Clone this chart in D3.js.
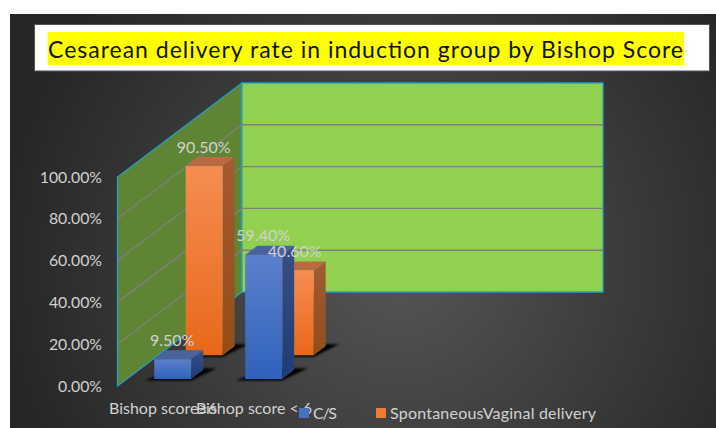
<!DOCTYPE html>
<html>
<head>
<meta charset="utf-8">
<style>
  html, body { margin: 0; padding: 0; background: #fff; }
  svg { display: block; }
  text { font-family: Lato, "Open Sans", sans-serif; }
</style>
<script src="https://cdn.jsdelivr.net/npm/d3@7"></script>
</head>
<body>
<div id="chart"></div>
<script>
const title = "Cesarean delivery rate in induction group by Bishop Score";
const categories = ["Bishop score≥6", "Bishop score < 6"];
const seriesNames = ["C/S", "SpontaneousVaginal delivery"];
const csValues = [9.5, 59.4];
const vaginalValues = [90.5, 40.6];
const yTicks = [0, 20, 40, 60, 80, 100];

const W = 716, H = 428;
const labelColor = "#d2d2d2";

const svg = d3.select("#chart").append("svg")
  .attr("width", W)
  .attr("height", H);

const defs = svg.append("defs");

const bg = defs.append("radialGradient").attr("id", "bg")
  .attr("gradientUnits", "userSpaceOnUse")
  .attr("cx", 400).attr("cy", 260).attr("r", 400);
bg.append("stop").attr("offset", "0%").attr("stop-color", "#565656");
bg.append("stop").attr("offset", "100%").attr("stop-color", "#262626");

function vGrad(id, top, bottom) {
  const g = defs.append("linearGradient").attr("id", id)
    .attr("x1", 0).attr("y1", 0).attr("x2", 0).attr("y2", 1);
  g.append("stop").attr("offset", "0%").attr("stop-color", top);
  g.append("stop").attr("offset", "100%").attr("stop-color", bottom);
}
vGrad("blueFront", "#5c80cb", "#2f62bd");
vGrad("blueSide", "#384f86", "#1e3c76");
vGrad("orangeFront", "#f58d52", "#e8681a");
vGrad("orangeSide", "#a15c32", "#914e18");

defs.append("filter").attr("id", "blur")
  .attr("x", "-30%").attr("y", "-60%").attr("width", "160%").attr("height", "220%")
  .append("feGaussianBlur").attr("stdDeviation", 1.2);

const palette = [
  { front: "url(#blueFront)", side: "url(#blueSide)", top: "#4a649b", key: "#4472c4" },
  { front: "url(#orangeFront)", side: "url(#orangeSide)", top: "#b96a41", key: "#ed7d31" }
];

// background panel
svg.append("rect")
  .attr("x", 10).attr("y", 14)
  .attr("width", W - 10).attr("height", H - 14)
  .attr("fill", "url(#bg)");

// title
svg.append("rect")
  .attr("x", 34.5).attr("y", 24.5)
  .attr("width", 675).attr("height", 46.5)
  .attr("fill", "#fff")
  .attr("stroke", "#555");
svg.append("rect")
  .attr("x", 47.5).attr("y", 32)
  .attr("width", 636.5).attr("height", 33)
  .attr("fill", "#ffff00");
svg.append("text")
  .attr("x", 48).attr("y", 58)
  .attr("font-size", 23)
  .attr("textLength", 635)
  .attr("fill", "#111")
  .text(title);

// fake 3d: depth 0 is the front of the floor, depth 1 the back wall
const depthX = 124.5, depthY = -94;
const yScale = d3.scaleLinear().domain([0, 100]).range([386, 177]);
const xScale = d3.scaleBand().domain(categories)
  .range([145, 273]).paddingInner(0.593).paddingOuter(0).align(0);
const depthScale = d3.scalePoint().domain(seriesNames).range([0.074, 0.327]);
const barDepth = 0.096;
const wallLeft = 117.5, wallWidth = 361;

function project(x, value, depth) {
  return [x + depth * depthX, yScale(value) + depth * depthY];
}
const poly = pts => pts.map(p => p.join(",")).join(" ");

const wallStroke = "#27a0c4";

// side wall
svg.append("polygon")
  .attr("points", poly([
    project(wallLeft, 0, 0), project(wallLeft, 100, 0),
    project(wallLeft, 100, 1), project(wallLeft, 0, 1)
  ]))
  .attr("fill", "#5f8534")
  .attr("stroke", wallStroke)
  .attr("stroke-width", 1.3);

// back wall
svg.append("polygon")
  .attr("points", poly([
    project(wallLeft, 0, 1), project(wallLeft, 100, 1),
    project(wallLeft + wallWidth, 100, 1), project(wallLeft + wallWidth, 0, 1)
  ]))
  .attr("fill", "#92d050")
  .attr("stroke", wallStroke)
  .attr("stroke-width", 1.3);

// gridlines
const grid = svg.append("g").attr("stroke", "#7f7f7f").attr("stroke-width", 1.4).attr("fill", "none");
yTicks.filter(d => d > 0 && d < 100).forEach(d => {
  grid.append("polyline")
    .attr("points", poly([
      project(wallLeft, d, 0), project(wallLeft, d, 1),
      project(wallLeft + wallWidth, d, 1)
    ]));
});

// y axis
const yAxis = svg.append("g")
  .attr("transform", "translate(102,0)")
  .call(d3.axisLeft(yScale).tickValues(yTicks).tickSize(0).tickPadding(0)
    .tickFormat(d => d3.format(".2f")(d) + "%"));
yAxis.select(".domain").remove();
yAxis.selectAll("text")
  .attr("font-size", 15.8)
  .attr("fill", labelColor)
  .style("font-family", "Lato, 'Open Sans', sans-serif");

// bars, back row first so the front row covers it
const bars = [];
[vaginalValues, csValues].forEach(values => {
  const s = values === csValues ? 0 : 1;
  values.forEach((v, i) => bars.push({ s, i, v }));
});

const barW = xScale.bandwidth();

bars.forEach(d => {
  const x = xScale(categories[d.i]);
  const dz = depthScale(seriesNames[d.s]);
  const c = palette[d.s];
  const g = svg.append("g");

  // floor shadow
  g.append("polygon")
    .attr("points", poly([
      project(x - 8, 0, dz - 0.015),
      project(x + barW + 2, 0, dz - 0.015),
      project(x + barW + 11, 0, dz + barDepth + 0.02),
      project(x + 10, 0, dz + barDepth + 0.02)
    ]))
    .attr("fill", "#050505")
    .attr("filter", "url(#blur)");

  // top face
  g.append("polygon")
    .attr("points", poly([
      project(x, d.v, dz), project(x + barW, d.v, dz),
      project(x + barW, d.v, dz + barDepth), project(x, d.v, dz + barDepth)
    ]))
    .attr("fill", c.top);

  // side face
  g.append("polygon")
    .attr("points", poly([
      project(x + barW, 0, dz), project(x + barW, d.v, dz),
      project(x + barW, d.v, dz + barDepth), project(x + barW, 0, dz + barDepth)
    ]))
    .attr("fill", c.side);

  // front face
  const p = project(x, d.v, dz);
  const b = project(x, 0, dz);
  g.append("rect")
    .attr("x", p[0]).attr("y", p[1])
    .attr("width", barW).attr("height", b[1] - p[1])
    .attr("fill", c.front);
});

// data labels on top of everything
bars.forEach(d => {
  const x = xScale(categories[d.i]);
  const p = project(x + barW / 2, d.v, depthScale(seriesNames[d.s]));
  svg.append("text")
    .attr("x", p[0] - 0.5).attr("y", p[1] - 13.5)
    .attr("text-anchor", "middle")
    .attr("font-size", 16)
    .attr("fill", labelColor)
    .text(d3.format(".2f")(d.v) + "%");
});

// category labels, they overlap in the original too
const catLabelX = [163, 254];
const catLabels = svg.append("g")
  .attr("font-size", 16)
  .attr("fill", labelColor);
categories.forEach((c, i) => {
  catLabels.append("text")
    .attr("x", catLabelX[i])
    .attr("y", 414)
    .attr("text-anchor", "middle")
    .text(c);
});

// legend
const legendX = [299, 376];
const legendW = [24, 206];
seriesNames.forEach((name, i) => {
  svg.append("rect")
    .attr("x", legendX[i]).attr("y", 408)
    .attr("width", 10).attr("height", 10)
    .attr("fill", palette[i].key);
  svg.append("text")
    .attr("x", legendX[i] + 14).attr("y", 418.5)
    .attr("font-size", 16)
    .attr("textLength", legendW[i])
    .attr("fill", labelColor)
    .text(name);
});
</script>
</body>
</html>
